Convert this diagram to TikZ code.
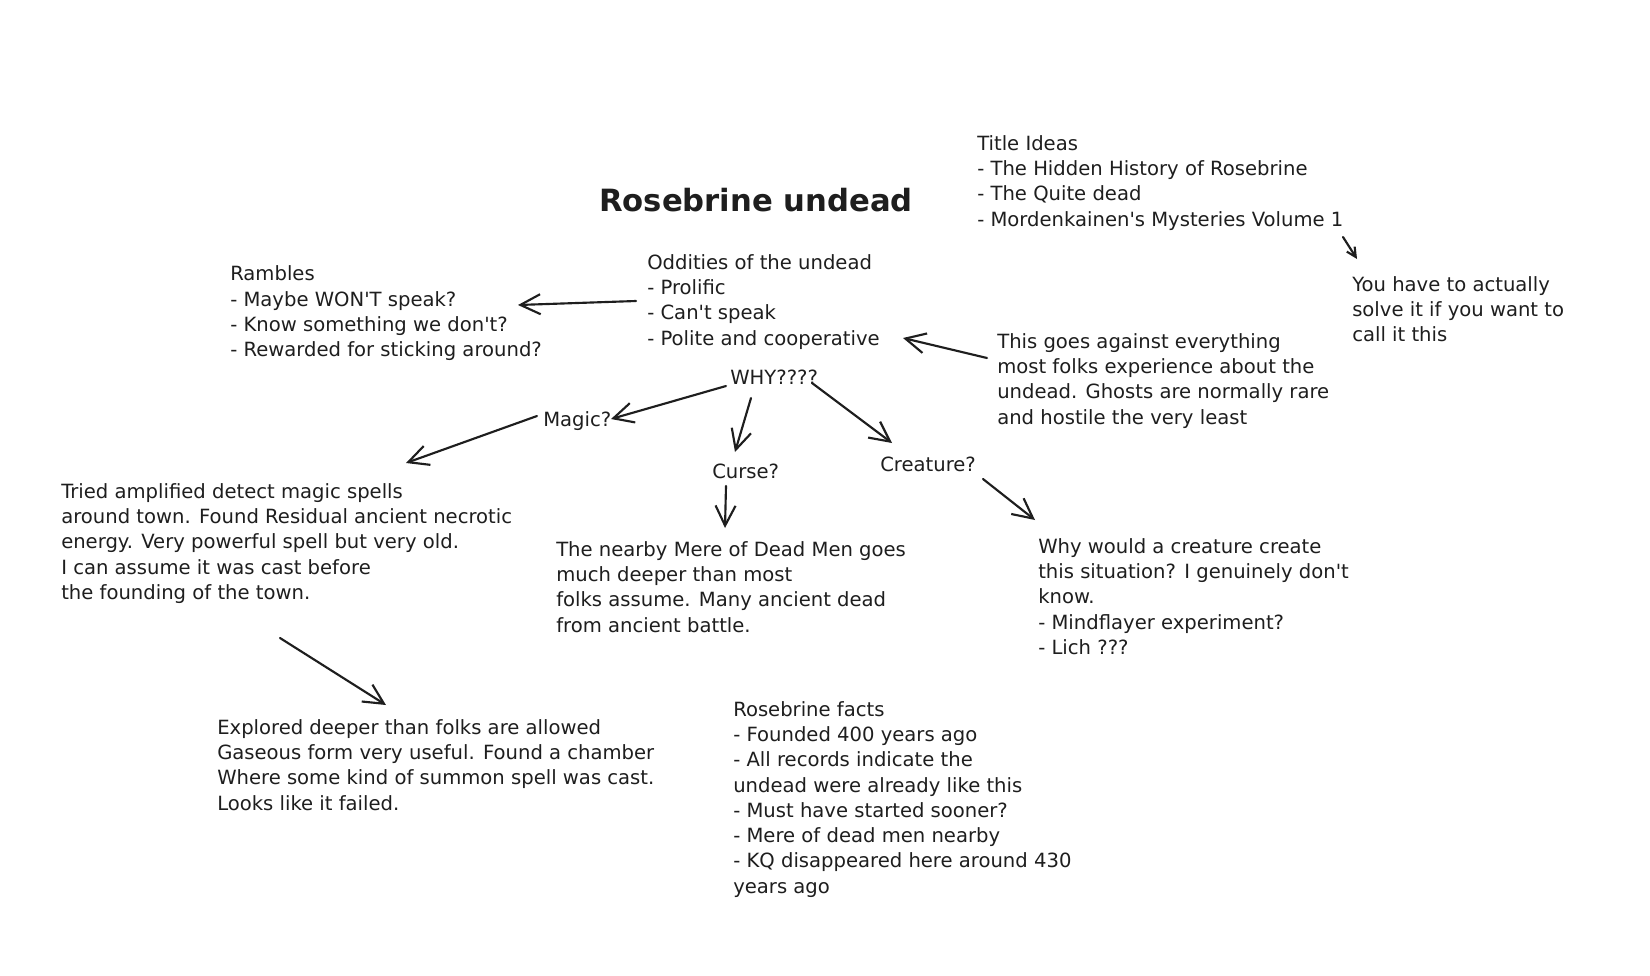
\documentclass[tikz,border=0pt]{standalone}
\usepackage{fontspec}
\setmainfont{DejaVu Sans}
\usetikzlibrary{arrows.meta}
\definecolor{ink}{HTML}{1E1E1E}
\newcommand{\ap}{\textquotesingle}
\begin{document}
\begin{tikzpicture}[x=0.75pt,y=-0.75pt,
  txt/.style={anchor=north west, inner sep=0pt, align=left, text=ink, yshift=-2.4pt, font=\fontsize{14.7pt}{18.94pt}\selectfont},
  ttl/.style={anchor=center, inner sep=0pt, text=ink, font=\bfseries\fontsize{23pt}{28pt}\selectfont},
  arr/.style={draw=ink, line width=1.6pt, line cap=round, -{Straight Barb[length=15pt,width=15pt,line width=1.6pt]}},
  sarr/.style={draw=ink, line width=1.6pt, line cap=round, -{Straight Barb[length=7pt,width=7pt,line width=1.6pt]}},
]
\fill[white] (0,0) rectangle (1650,975);
\path[use as bounding box] (0,0) rectangle (1650,975);

\node[ttl] (title) at (756,200) {Rosebrine undead};

\node[txt] (ram) at (230,262.5) {Rambles\\- Maybe WON\ap T speak?\\- Know something we don\ap t?\\- Rewarded for sticking around?};
\node[txt] (odd) at (647,251) {Oddities of the undead\\- Prolific\\- Can\ap t speak\\- Polite and cooperative};
\node[txt] (why) at (730,366) {WHY????};
\node[txt] (magic) at (543,408) {Magic?};
\node[txt] (curse) at (712,460) {Curse?};
\node[txt] (creature) at (880,453) {Creature?};
\node[txt] (tried) at (61,480) {Tried amplified detect magic spells\\around town. Found Residual ancient necrotic\\energy. Very powerful spell but very old.\\I can assume it was cast before\\the founding of the town.};
\node[txt] (mere) at (556,538) {The nearby Mere of Dead Men goes\\much deeper than most\\folks assume. Many ancient dead\\from ancient battle.};
\node[txt] (whycre) at (1038,535) {Why would a creature create\\this situation? I genuinely don\ap t\\know.\\- Mindflayer experiment?\\- Lich ???};
\node[txt] (explored) at (217,716) {Explored deeper than folks are allowed\\Gaseous form very useful. Found a chamber\\Where some kind of summon spell was cast.\\Looks like it failed.};
\node[txt] (facts) at (733,698) {Rosebrine facts\\- Founded 400 years ago\\- All records indicate the\\undead were already like this\\- Must have started sooner?\\- Mere of dead men nearby\\- KQ disappeared here around 430\\years ago};
\node[txt] (ideas) at (977,132) {Title Ideas\\- The Hidden History of Rosebrine\\- The Quite dead\\- Mordenkainen\ap s Mysteries Volume 1};
\node[txt] (youhave) at (1352,273) {You have to actually\\solve it if you want to\\call it this};
\node[txt] (against) at (997,330) {This goes against everything\\most folks experience about the\\undead. Ghosts are normally rare\\and hostile the very least};

\draw[arr] ([shift={(-11,46.8)}]odd.north west) -- ([shift={(288,39.3)}]ram.north west);
\draw[arr] ([shift={(-10,24.8)}]against.north west) -- ([shift={(256,83.8)}]odd.north west);
\draw[arr] ([shift={(-4,16.8)}]why.north west) -- ([shift={(68,7.8)}]magic.north west);
\draw[arr] ([shift={(21,28.8)}]why.north west) -- ([shift={(23,-11.2)}]curse.north west);
\draw[arr] ([shift={(82,13.8)}]why.north west) -- ([shift={(12,-13.2)}]creature.north west);
\draw[arr] ([shift={(-6,4.8)}]magic.north west) -- ([shift={(345,-20.2)}]tried.north west);
\draw[arr] ([shift={(14,22.8)}]curse.north west) -- ([shift={(169,-13.2)}]mere.north west);
\draw[arr] ([shift={(103,22.8)}]creature.north west) -- ([shift={(-3,-18.2)}]whycre.north west);
\draw[arr] ([shift={(219,154.8)}]tried.north west) -- ([shift={(169,-14.2)}]explored.north west);
\draw[sarr] ([shift={(366,101.8)}]ideas.north west) -- ([shift={(5,-17.2)}]youhave.north west);
\end{tikzpicture}
\end{document}
